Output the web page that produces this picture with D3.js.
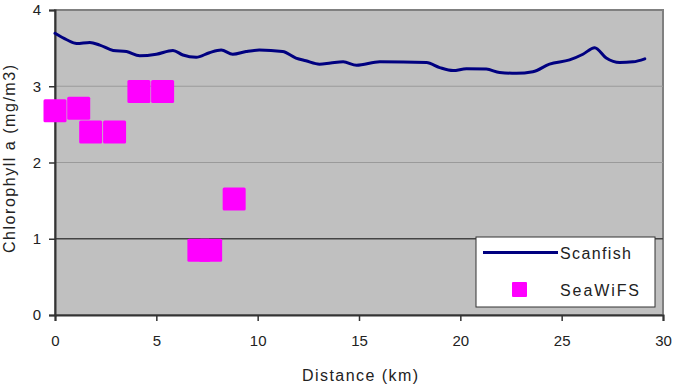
<!DOCTYPE html>
<html>
<head>
<meta charset="utf-8">
<script src="https://cdn.jsdelivr.net/npm/d3@7"></script>
<style>
  body { margin: 0; background: #fff; }
  text { font-family: "Liberation Sans", Arial, sans-serif; fill: #222; }
</style>
</head>
<body>
<svg id="chart" width="676" height="386"></svg>
<script>
// Scanfish trace (distance km, chlorophyll mg/m3)
const scanKm  = [0, 0.58, 1.07, 1.72, 2.21, 2.87, 3.53, 4.18, 5.0, 5.82, 6.31, 6.97, 7.62, 8.2, 8.77, 9.43, 10.08, 11.23, 11.89, 12.38, 13.05, 13.6, 14.22, 14.88, 16.03, 18.33, 18.98, 19.64, 20.3, 21.28, 21.94, 22.76, 23.58, 24.4, 25.39, 26.05, 26.63, 27.2, 27.86, 28.52, 29.1]
const scanChl = [3.695, 3.61, 3.56, 3.575, 3.54, 3.47, 3.455, 3.40, 3.42, 3.47, 3.41, 3.38, 3.44, 3.475, 3.42, 3.455, 3.475, 3.455, 3.37, 3.335, 3.29, 3.305, 3.32, 3.275, 3.32, 3.31, 3.245, 3.205, 3.23, 3.225, 3.18, 3.17, 3.19, 3.29, 3.345, 3.42, 3.505, 3.37, 3.31, 3.32, 3.36]

// SeaWiFS points
const seaKm  = [0, 1.17, 1.76, 2.94, 4.14, 5.31, 7.1, 7.68, 8.84]
const seaChl = [2.68, 2.71, 2.40, 2.40, 2.93, 2.93, 0.85, 0.85, 1.52]

const xTicks = [0, 5, 10, 15, 20, 25, 30]
const yTicks = [0, 1, 2, 3, 4]

const svg = d3.select('#chart')
const margin = {left: 55, top: 10, right: 13, bottom: 71}
const width = 676 - margin.left - margin.right
const height = 386 - margin.top - margin.bottom

const x = d3.scaleLinear().domain([0, 30]).range([0, width])
const y = d3.scaleLinear().domain([0, 4]).range([height, 0])

const g = svg.append('g').attr('transform', `translate(${margin.left},${margin.top})`)

// plot area
g.append('rect')
    .attr('width', width).attr('height', height)
    .attr('fill', '#c0c0c0')
    .attr('stroke', '#808080').attr('stroke-width', 2)

// gridlines
g.append('g')
    .selectAll('line')
    .data(yTicks.filter(d => d > 0 && d < 4))
    .enter()
    .append('line')
    .attr('x1', 0).attr('x2', width)
    .attr('y1', d => y(d)).attr('y2', d => y(d))
    .attr('stroke', d => d === 1 ? '#444' : '#9a9a9a')
    .attr('stroke-width', d => d === 1 ? 1.5 : 1)

// axes
const xAxis = g.append('g')
    .attr('transform', `translate(0,${height})`)
    .call(d3.axisBottom(x).tickValues(xTicks).tickSize(6).tickPadding(14))
const yAxis = g.append('g')
    .call(d3.axisLeft(y).tickValues(yTicks).tickFormat(d3.format('d')).tickSize(6).tickPadding(8))

for (const ax of [xAxis, yAxis]) {
    ax.select('.domain').attr('stroke', '#333').attr('stroke-width', 2)
    ax.selectAll('.tick line').attr('stroke', '#333').attr('stroke-width', 1.5)
    ax.selectAll('.tick text').attr('font-size', 15).attr('fill', '#222')
        .attr('font-family', '"Liberation Sans", Arial, sans-serif')
}

// SeaWiFS squares
const sq = 23
g.append('g')
    .selectAll('rect')
    .data(seaKm.map((k, i) => ({k, v: seaChl[i]})))
    .enter()
    .append('rect')
    .attr('x', d => x(d.k) - sq / 2)
    .attr('y', d => y(d.v) - sq / 2)
    .attr('width', sq).attr('height', sq)
    .attr('rx', 1.5)
    .attr('fill', '#ff00ff')

// Scanfish line
g.append('path')
    .datum(scanKm.map((k, i) => ({k, v: scanChl[i]})))
    .attr('fill', 'none')
    .attr('stroke', '#000080')
    .attr('stroke-width', 3)
    .attr('stroke-linejoin', 'round')
    .attr('stroke-linecap', 'round')
    .attr('d', d3.line().x(d => x(d.k)).y(d => y(d.v)).curve(d3.curveMonotoneX))

// axis titles
svg.append('text')
    .attr('x', 302).attr('y', 381)
    .attr('font-size', 16)
    .attr('textLength', 116).attr('lengthAdjust', 'spacing')
    .text('Distance (km)')
svg.append('text')
    .attr('transform', 'translate(15,253) rotate(-90)')
    .attr('font-size', 16)
    .attr('textLength', 188).attr('lengthAdjust', 'spacing')
    .text('Chlorophyll a (mg/m3)')

// legend
const lg = svg.append('g').attr('transform', 'translate(476,237)')
lg.append('rect')
    .attr('width', 179).attr('height', 70)
    .attr('fill', '#fff').attr('stroke', '#333').attr('stroke-width', 1)
lg.append('line')
    .attr('x1', 7).attr('x2', 82).attr('y1', 15.5).attr('y2', 15.5)
    .attr('stroke', '#000080').attr('stroke-width', 3)
lg.append('text').attr('x', 84).attr('y', 22).attr('font-size', 16)
    .attr('textLength', 71).attr('lengthAdjust', 'spacing').text('Scanfish')
lg.append('rect')
    .attr('x', 36).attr('y', 45).attr('width', 15).attr('height', 15).attr('rx', 1)
    .attr('fill', '#ff00ff')
lg.append('text').attr('x', 84).attr('y', 59).attr('font-size', 16)
    .attr('textLength', 79).attr('lengthAdjust', 'spacing').text('SeaWiFS')
</script>
</body>
</html>
